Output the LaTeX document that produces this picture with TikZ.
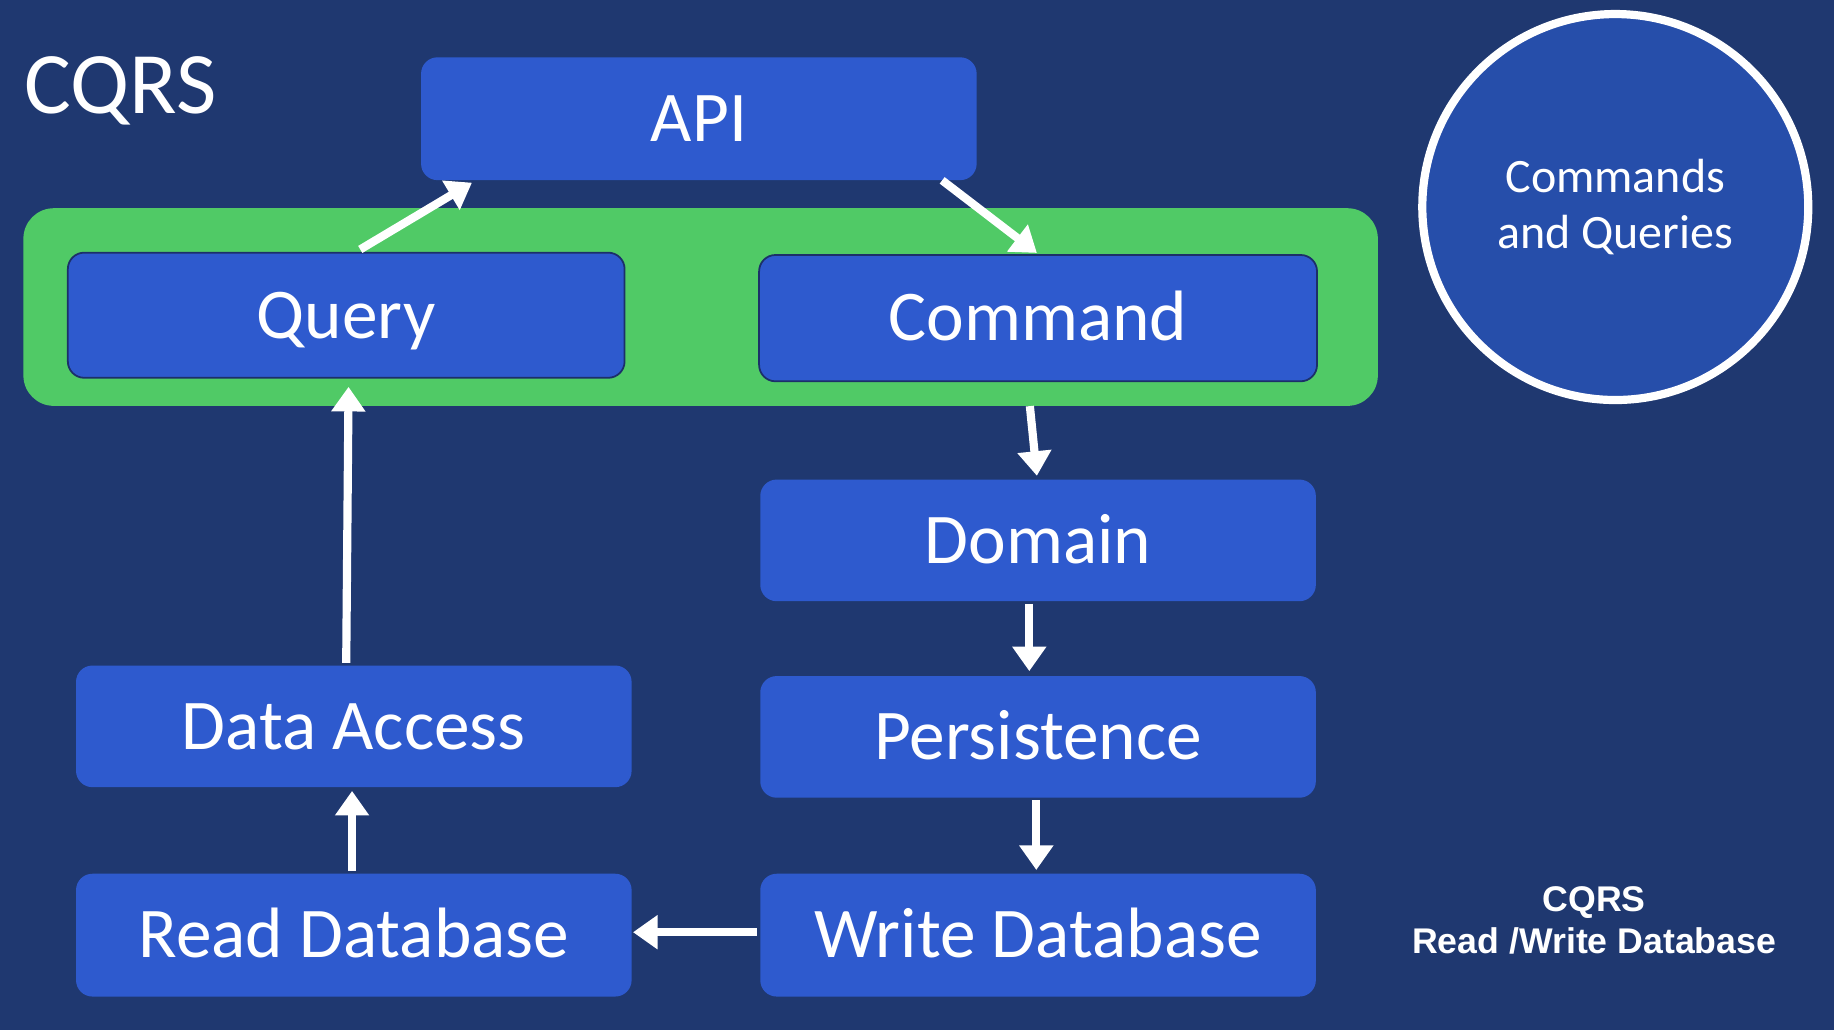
\documentclass[tikz,border=0pt]{standalone}
\usepackage{fontspec}
\setmainfont{Carlito}
\newfontfamily\arialfont{Liberation Sans}
\usetikzlibrary{arrows.meta}
\definecolor{bgnavy}{RGB}{31,56,112}
\definecolor{boxblue}{RGB}{46,90,206}
\definecolor{grn}{RGB}{80,202,102}
\definecolor{circblue}{RGB}{38,78,170}
\definecolor{edgenavy}{RGB}{28,48,105}
\tikzset{
  box/.style={fill=boxblue, rounded corners=14pt, minimum width=475pt, minimum height=105pt,
    inner sep=0pt, text=white, font=\fontsize{61}{72}\selectfont, text height=39pt, text depth=0pt},
  edged/.style={draw=edgenavy, line width=1.5pt},
  arr/.style={draw=white, line width=7pt, -{Triangle[length=21pt,width=28pt]}}
}
\begin{document}
\begin{tikzpicture}[x=1pt,y=-1pt]
\fill[bgnavy] (0,0) rectangle (1568,880.6);
\useasboundingbox (0,0) rectangle (1568,880.6);

\node[anchor=base west, text=white, font=\fontsize{75}{84}\selectfont, inner sep=0pt] (title) at (21,97) {CQRS};

\node[fill=grn, rounded corners=26pt, minimum width=1158pt, minimum height=169pt, inner sep=0pt] (green) at (599,262.5) {};

\node[box] (api) at (597.5,101.5) {API};
\node[box, edged, minimum width=476pt, minimum height=107pt] (query) at (296,269.5) {Query};
\node[box, edged, minimum width=477pt, minimum height=108pt] (command) at (887.5,272) {Command};
\node[box, minimum height=104pt] (domain) at (887.5,462) {Domain};
\node[box, minimum height=104pt] (persist) at (887.5,630) {Persistence};
\node[box] (writedb) at (887.5,799.5) {Write Database};
\node[box, minimum height=104pt] (dataacc) at (302.5,621) {Data Access};
\node[box] (readdb) at (302.5,799.5) {Read Database};

\node[circle, fill=circblue, draw=white, line width=7pt, minimum size=330pt, inner sep=0pt,
  text=white, align=center, font=\fontsize{41}{48}\selectfont] (cq) at (1381,177) {Commands\\and Queries};

\node[text=white, align=center, font=\arialfont\bfseries\fontsize{30.5}{36}\selectfont, inner sep=0pt] (note) at (1363,787) {CQRS\\Read /Write Database};

\draw[arr] ([xshift=12pt,yshift=2pt]query.north) -- ([xshift=-194pt,yshift=-2pt]api.south);
\draw[arr] ([xshift=208pt]api.south) -- ([xshift=-1pt,yshift=1pt]command.north);
\draw[arr] ([xshift=-7pt]green.south -| command.south) -- ([xshift=-1pt,yshift=3pt]domain.north);
\draw[arr] ([xshift=-7.5pt,yshift=-2pt]domain.south) -- ([xshift=-7.5pt,yshift=4pt]persist.north);
\draw[arr] ([xshift=-1.5pt,yshift=-2pt]persist.south) -- ([xshift=-1.5pt,yshift=3pt]writedb.north);
\draw[arr] ([xshift=-3pt,yshift=2.5pt]writedb.west) -- ([xshift=1pt,yshift=2.5pt]readdb.east);
\draw[arr] ([xshift=-1.5pt,yshift=2pt]readdb.north) -- ([xshift=-1.5pt,yshift=-3pt]dataacc.south);
\draw[arr] ([xshift=-6.5pt,yshift=2pt]dataacc.north) -- ([xshift=2pt,yshift=-7pt]query.south);
\end{tikzpicture}
\end{document}
